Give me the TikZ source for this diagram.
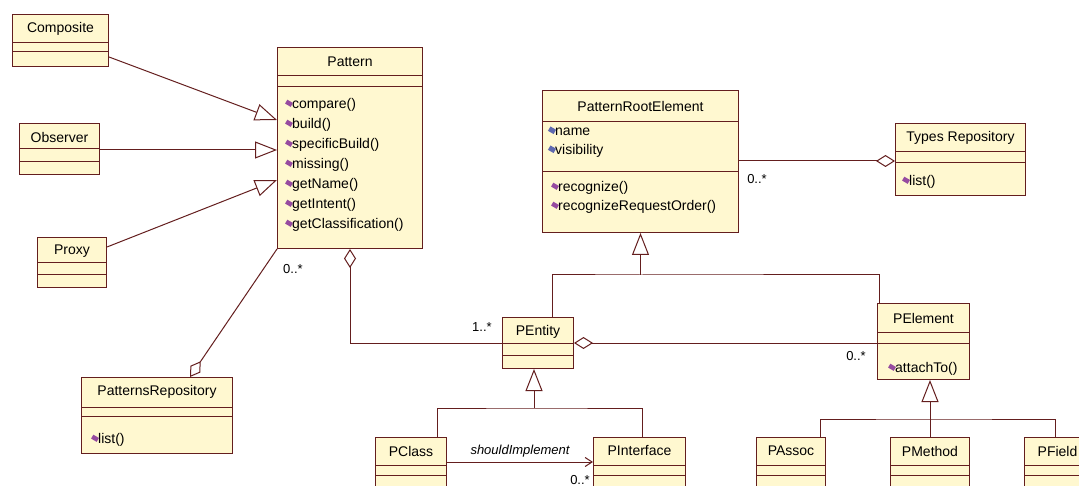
\documentclass[tikz,border=0pt]{standalone}
\usepackage{fontspec}
\newfontfamily\umlfont{Liberation Sans}
\usepackage{tikz}
\usetikzlibrary{arrows.meta, positioning, calc}
\definecolor{umlfill}{RGB}{255, 248, 208}
\definecolor{umlline}{RGB}{100, 30, 30}
\definecolor{opmauve}{RGB}{150, 75, 160}
\definecolor{attblue}{RGB}{95, 105, 175}

\begin{document}
\begin{tikzpicture}[
        x=1pt, y=-1pt,
        cls/.style={
            draw=umlline, fill=umlfill, line width=1pt,
            inner sep=0pt, anchor=north west,
        },
        sep/.style={draw=umlline, line width=1pt},
        wire/.style={draw=umlline, line width=1pt},
        cname/.style={font=\umlfont\fontsize{14}{16}\selectfont, inner sep=0pt},
        opmark/.style={fill=opmauve, inner sep=0pt, minimum width=6.5pt, minimum height=4.5pt, rotate=-30},
        attmark/.style={fill=attblue, inner sep=0pt, minimum width=6.5pt, minimum height=5pt, rotate=-30},
        op/.style={cname, anchor=west, label={[opmark]left:}},
        att/.style={cname, anchor=west, label={[attmark]left:}},
        mult/.style={font=\umlfont\fontsize{13}{15}\selectfont, inner sep=0pt},
        gen/.style={wire, -{Triangle[length=22pt, width=17pt, fill=white]}},
        aggend/.style={wire, -{Diamond[length=19pt, width=12pt, fill=white]}},
        aggstart/.style={wire, {Diamond[length=19pt, width=12pt, fill=white]}-},
        dep/.style={wire, -{Straight Barb[length=7pt, width=9pt]}},
    ]
    \useasboundingbox (0,0) rectangle (1079,486);
    \fill[white] (0,0) rectangle (1079,486);
    \clip (0,0) rectangle (1079,486);

    % class boxes
    \node[cls, minimum width=96, minimum height=52] (composite) at (12,14) {};
    \node[cls, minimum width=80, minimum height=51] (observer) at (19,123) {};
    \node[cls, minimum width=69, minimum height=50] (proxy) at (37,237) {};
    \node[cls, minimum width=145, minimum height=201] (pattern) at (277,47) {};
    \node[cls, minimum width=151, minimum height=76] (patrepo) at (81,377) {};
    \node[cls, minimum width=196, minimum height=142] (pre) at (542,90) {};
    \node[cls, minimum width=130, minimum height=72] (types) at (895,123) {};
    \node[cls, minimum width=71, minimum height=51] (pentity) at (502,317) {};
    \node[cls, minimum width=92, minimum height=76] (pelement) at (877,303) {};
    \node[cls, minimum width=71, minimum height=80] (pclass) at (375,437) {};
    \node[cls, minimum width=92, minimum height=80] (pinterface) at (593,437) {};
    \node[cls, minimum width=69, minimum height=80] (passoc) at (756,437) {};
    \node[cls, minimum width=79, minimum height=80] (pmethod) at (890,437) {};
    \node[cls, minimum width=66, minimum height=80] (pfield) at (1024,437) {};

    % compartments
    \foreach \n/\a/\b in {composite/29/38, observer/26/39, proxy/26/38,
            pattern/29/40, patrepo/30/39, pre/32/82, types/29/40,
            pentity/26/38, pelement/30/40, pclass/28/38, pinterface/28/38,
            passoc/28/38, pmethod/28/38, pfield/28/38}
        \draw[sep] ([yshift=-\a]\n.north west) -- ([yshift=-\a]\n.north east)
                   ([yshift=-\b]\n.north west) -- ([yshift=-\b]\n.north east);

    % class names
    \node[cname] (composite-n) at ([yshift=-15]composite.north) {Composite};
    \node[cname] (observer-n) at ([yshift=-14]observer.north) {Observer};
    \node[cname] (proxy-n) at ([yshift=-14]proxy.north) {Proxy};
    \node[cname] (pattern-n) at ([yshift=-15]pattern.north) {Pattern};
    \node[cname] (patrepo-n) at ([yshift=-15]patrepo.north) {PatternsRepository};
    \node[cname] (pre-n) at ([yshift=-16]pre.north) {PatternRootElement};
    \node[cname] (types-n) at ([yshift=-15]types.north) {Types Repository};
    \node[cname] (pentity-n) at ([yshift=-15]pentity.north) {PEntity};
    \node[cname] (pelement-n) at ([yshift=-15]pelement.north) {PElement};
    \node[cname] (pclass-n) at ([yshift=-14]pclass.north) {PClass};
    \node[cname] (pinterface-n) at ([yshift=-14]pinterface.north) {PInterface};
    \node[cname] (passoc-n) at ([yshift=-14]passoc.north) {PAssoc};
    \node[cname] (pmethod-n) at ([yshift=-14]pmethod.north) {PMethod};
    \node[cname] (pfield-n) at ([yshift=-14]pfield.north) {PField};

    % members
    \foreach \m [count=\i from 0] in {compare(), build(), specificBuild(), missing(),
            getName(), getIntent(), getClassification()}
        \node[op] (pattern-op\i) at (292,105+20*\i) {\m};
    \node[op] (patrepo-op) at (98,440) {list()};
    \node[att] (pre-att1) at (555,132) {name};
    \node[att] (pre-att2) at (555,151) {visibility};
    \node[op] (pre-op1) at (558,188) {recognize()};
    \node[op] (pre-op2) at (558,207) {recognizeRequestOrder()};
    \node[op] (types-op) at (909,182) {list()};
    \node[op] (pelement-op) at (895,369) {attachTo()};

    % generalizations
    \draw[gen] ([yshift=-43]composite.north east) -- ([yshift=-73]pattern.north west);
    \draw[gen] ([yshift=-27]observer.north east) -- ([yshift=-103]pattern.north west);
    \draw[gen] ([yshift=-10]proxy.north east) -- ([yshift=-133]pattern.north west);

    \coordinate (rootjoin) at (pre.south |- 0,275);
    \draw[gen] (rootjoin) -- (pre.south);
    \draw[wire] ([xshift=50]pentity.north west) |- (rootjoin) -| ([xshift=2]pelement.north west);

    \coordinate (entjoin) at ([xshift=-4]pentity.south |- 0,408);
    \draw[gen] (entjoin) -- (entjoin |- pentity.south);
    \draw[wire] ([xshift=62]pclass.north west) |- (entjoin) -| ([xshift=49]pinterface.north west);

    \coordinate (eljoin) at (pmethod.north |- 0,419);
    \draw[gen] (pmethod.north) -- (pmethod.north |- pelement.south);
    \draw[wire] ([xshift=64]passoc.north west) |- (eljoin) -| ([xshift=31]pfield.north west);

    % aggregations
    \draw[aggend] (pattern.south west) -- ([xshift=109]patrepo.north west);
    \draw[aggstart] ([xshift=73]pattern.south west) |- (pentity.west);
    \draw[aggend] ([yshift=-71]pre.north east) -- ([yshift=-38]types.north west);
    \draw[aggstart] (pentity.east) -- (pentity.east -| pelement.west);

    % dependency
    \draw[dep] ([yshift=-25]pclass.north east) -- ([yshift=-25]pinterface.north west)
        node[midway, above=4pt, cname, font=\umlfont\itshape\fontsize{13}{15}\selectfont] (dep-l) {shouldImplement};

    % multiplicities
    \node[mult] (m1) at (293,269) {0..*};
    \node[mult] (m2) at (482,327) {1..*};
    \node[mult] (m3) at (757,179) {0..*};
    \node[mult] (m4) at (856,356) {0..*};
    \node[mult] (m5) at (580,480) {0..*};
\end{tikzpicture}
\end{document}
